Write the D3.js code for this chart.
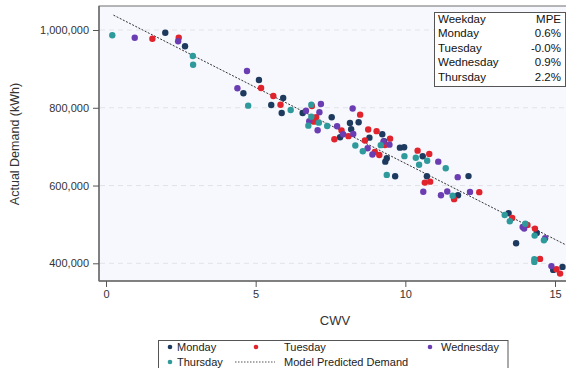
<!DOCTYPE html>
<html>
<head>
<meta charset="utf-8">
<script src="https://cdn.jsdelivr.net/npm/d3@7"></script>
<style>
  html, body { margin: 0; padding: 0; background: #ffffff; }
  svg { display: block; font-family: "Liberation Sans", Arial, sans-serif; }
</style>
</head>
<body>
<svg id="chart" width="566" height="368"></svg>
<script>
// Observed daily demand by weekday: [CWV, actual demand in kWh]
const monday = [
  [1.98, 993000], [2.64, 958100], [4.59, 837300], [5.11, 871500], [5.92, 825200],
  [5.52, 807200], [5.87, 786600], [6.57, 786600], [7.54, 775600], [8.15, 760900],
  [8.44, 762700], [8.19, 744700], [7.82, 724200], [8.80, 723100], [9.23, 731900],
  [9.29, 714100], [9.33, 661400], [9.38, 670200], [9.66, 623900], [9.82, 697400],
  [9.96, 698500], [10.58, 675300], [10.72, 623900], [11.76, 575100], [12.11, 624200],
  [13.45, 529100], [14.39, 478100], [13.70, 451700], [14.94, 383000], [15.25, 390700]
];
const tuesday = [
  [1.55, 977600], [2.43, 980200], [5.18, 850900], [5.59, 830300], [5.83, 807700],
  [6.88, 804600], [7.02, 775600], [6.95, 764300], [7.87, 741600], [7.63, 719000],
  [8.10, 727000], [8.49, 782300], [8.76, 744200], [9.04, 739800], [8.65, 715900],
  [9.49, 720600], [9.32, 704400], [8.98, 686400], [9.13, 678700], [10.41, 689700],
  [10.80, 681200], [10.65, 607500], [10.83, 610000], [11.63, 565000], [12.47, 583000],
  [13.57, 516700], [14.33, 489200], [14.08, 498700], [14.50, 411300], [15.05, 384800],
  [15.17, 373500]
];
const wednesday = [
  [0.96, 980200], [2.41, 971000], [4.39, 850100], [4.71, 894600], [7.18, 809800],
  [6.68, 792500], [7.13, 788400], [6.79, 765300], [7.07, 742200], [7.72, 752400],
  [7.92, 731900], [8.24, 798200], [8.26, 732600], [9.27, 713400], [9.47, 705100],
  [8.74, 695900], [8.90, 679900], [11.10, 661400], [10.60, 584100], [11.19, 575100],
  [11.40, 584800], [11.75, 621600], [12.16, 583600], [13.92, 493600], [13.97, 489200],
  [14.67, 464500], [14.88, 392800]
];
const thursday = [
  [0.21, 986400], [2.90, 933200], [2.91, 910800], [4.75, 805400], [6.17, 794300],
  [6.86, 808000], [6.86, 777100], [6.76, 754000], [7.11, 761700], [7.39, 753200],
  [8.33, 703100], [8.58, 688200], [9.18, 703900], [9.38, 627300], [9.97, 675600],
  [10.35, 671500], [10.73, 663700], [10.46, 653500], [11.35, 644500], [11.58, 573800],
  [13.32, 524400], [13.49, 508200], [14.01, 501800], [14.32, 471200], [14.63, 459400],
  [14.31, 410500], [14.31, 403600]
];

// Linear demand model: demand = intercept + slope * CWV
const modelIntercept = 1048000;
const modelSlope = -39100;
const modelCwvRange = [0.25, 15.6];

// Mean percentage error per weekday
const mpeDays = ["Monday", "Tuesday", "Wednesday", "Thursday"];
const mpeValues = ["0.6%", "-0.0%", "0.9%", "2.2%"];

const xTicks = [0, 5, 10, 15];
const yTicks = [400000, 600000, 800000, 1000000];

const seriesNames = ["Monday", "Tuesday", "Wednesday", "Thursday"];
const seriesColors = ["#1e3a5f", "#e0232d", "#6a3db2", "#2e9a9b"];
const seriesData = [monday, tuesday, wednesday, thursday];

const svg = d3.select("#chart");

// Plot frame
const frame = { left: 99, top: 6, right: 570, bottom: 281 };

const x = d3.scaleLinear().domain([0, 15]).range([106, 555]);
const y = d3.scaleLinear().domain([400000, 1000000]).range([263.3, 30]);

svg.append("rect")
  .attr("x", frame.left).attr("y", frame.top)
  .attr("width", frame.right - frame.left).attr("height", frame.bottom - frame.top)
  .attr("fill", "#f7f8fd");

svg.append("clipPath").attr("id", "plotClip")
  .append("rect")
  .attr("x", frame.left).attr("y", frame.top)
  .attr("width", frame.right - frame.left).attr("height", frame.bottom - frame.top);

// Horizontal reference lines
svg.append("g").selectAll("line").data(yTicks).join("line")
  .attr("x1", frame.left + 1).attr("x2", frame.right)
  .attr("y1", d => y(d)).attr("y2", d => y(d))
  .attr("stroke", "#e2e3e8").attr("stroke-width", 1)
  .attr("stroke-dasharray", "5,4");

const plot = svg.append("g").attr("clip-path", "url(#plotClip)");

// Model predicted demand
const line = d3.line().x(d => x(d)).y(d => y(modelIntercept + modelSlope * d));
plot.append("path")
  .attr("d", line(modelCwvRange))
  .attr("fill", "none")
  .attr("stroke", "#333333")
  .attr("stroke-width", 1)
  .attr("stroke-dasharray", "2,1.5");

// Observed points
seriesData.forEach((data, i) => {
  plot.append("g").selectAll("circle").data(data).join("circle")
    .attr("cx", d => x(d[0]))
    .attr("cy", d => y(d[1]))
    .attr("r", 3.2)
    .attr("fill", seriesColors[i]);
});

// Frame border
svg.append("rect")
  .attr("x", frame.left).attr("y", frame.top)
  .attr("width", frame.right - frame.left).attr("height", frame.bottom - frame.top)
  .attr("fill", "none").attr("stroke", "#6e6e6e").attr("stroke-width", 1);

// Axes
const yAxis = d3.axisLeft(y).tickValues(yTicks).tickSize(6).tickPadding(4)
  .tickFormat(d3.format(",d"));
const yG = svg.append("g").attr("transform", `translate(${frame.left},0)`).call(yAxis);
yG.select(".domain").attr("stroke", "#6e6e6e").attr("stroke-width", 1.5)
  .attr("d", `M0,${frame.top}V${frame.bottom}`);
yG.selectAll(".tick line").attr("stroke", "#555");
yG.selectAll(".tick text").attr("fill", "#333").attr("font-size", 11)
  .attr("font-family", "Liberation Sans, Arial, sans-serif");

const xAxis = d3.axisBottom(x).tickValues(xTicks).tickSize(6).tickPadding(3)
  .tickFormat(d3.format("d"));
const xG = svg.append("g").attr("transform", `translate(0,${frame.bottom})`).call(xAxis);
xG.select(".domain").attr("stroke", "#6e6e6e").attr("stroke-width", 1.5)
  .attr("d", `M${frame.left},0H${frame.right}`);
xG.selectAll(".tick line").attr("stroke", "#555");
xG.selectAll(".tick text").attr("fill", "#333").attr("font-size", 11)
  .attr("font-family", "Liberation Sans, Arial, sans-serif");

// Axis titles
svg.append("text")
  .attr("x", 335).attr("y", 325)
  .attr("text-anchor", "middle")
  .attr("font-size", 13).attr("fill", "#333")
  .text("CWV");

svg.append("text")
  .attr("transform", "translate(19,144) rotate(-90)")
  .attr("text-anchor", "middle")
  .attr("font-size", 12.5).attr("fill", "#333")
  .text("Actual Demand (kWh)");

// MPE inset table
const table = svg.append("g");
table.append("rect")
  .attr("x", 434.5).attr("y", 12.5).attr("width", 131).attr("height", 74)
  .attr("fill", "#ffffff").attr("stroke", "#555").attr("stroke-width", 1);
const rowY = d => 22.5 + d * 14.6;
table.append("text").attr("x", 438).attr("y", rowY(0))
  .attr("font-size", 11.5).attr("fill", "#111").text("Weekday");
table.append("text").attr("x", 561).attr("y", rowY(0)).attr("text-anchor", "end")
  .attr("font-size", 11.5).attr("fill", "#111").text("MPE");
mpeDays.forEach((day, i) => {
  table.append("text").attr("x", 438).attr("y", rowY(i + 1))
    .attr("font-size", 11.5).attr("fill", "#111").text(day);
  table.append("text").attr("x", 561).attr("y", rowY(i + 1)).attr("text-anchor", "end")
    .attr("font-size", 11.5).attr("fill", "#111").text(mpeValues[i]);
});

// Bottom legend
const legend = svg.append("g");
legend.append("rect")
  .attr("x", 158.5).attr("y", 340.5).attr("width", 349.5).attr("height", 40)
  .attr("fill", "#ffffff").attr("stroke", "#555").attr("stroke-width", 1);

const legendItems = [
  { name: "Monday", color: seriesColors[0], mx: 170, tx: 177, ty: 351 },
  { name: "Tuesday", color: seriesColors[1], mx: 256, tx: 284, ty: 351 },
  { name: "Wednesday", color: seriesColors[2], mx: 430, tx: 441, ty: 351 },
  { name: "Thursday", color: seriesColors[3], mx: 170, tx: 177, ty: 366 }
];
legendItems.forEach(it => {
  legend.append("circle").attr("cx", it.mx).attr("cy", it.ty - 4).attr("r", 2.3)
    .attr("fill", it.color);
  legend.append("text").attr("x", it.tx).attr("y", it.ty)
    .attr("font-size", 11).attr("fill", "#222").text(it.name);
});
legend.append("line")
  .attr("x1", 235).attr("x2", 275).attr("y1", 362).attr("y2", 362)
  .attr("stroke", "#555").attr("stroke-width", 1).attr("stroke-dasharray", "1.5,1.5");
legend.append("text").attr("x", 284).attr("y", 366)
  .attr("font-size", 11).attr("fill", "#222").text("Model Predicted Demand");
</script>
</body>
</html>
